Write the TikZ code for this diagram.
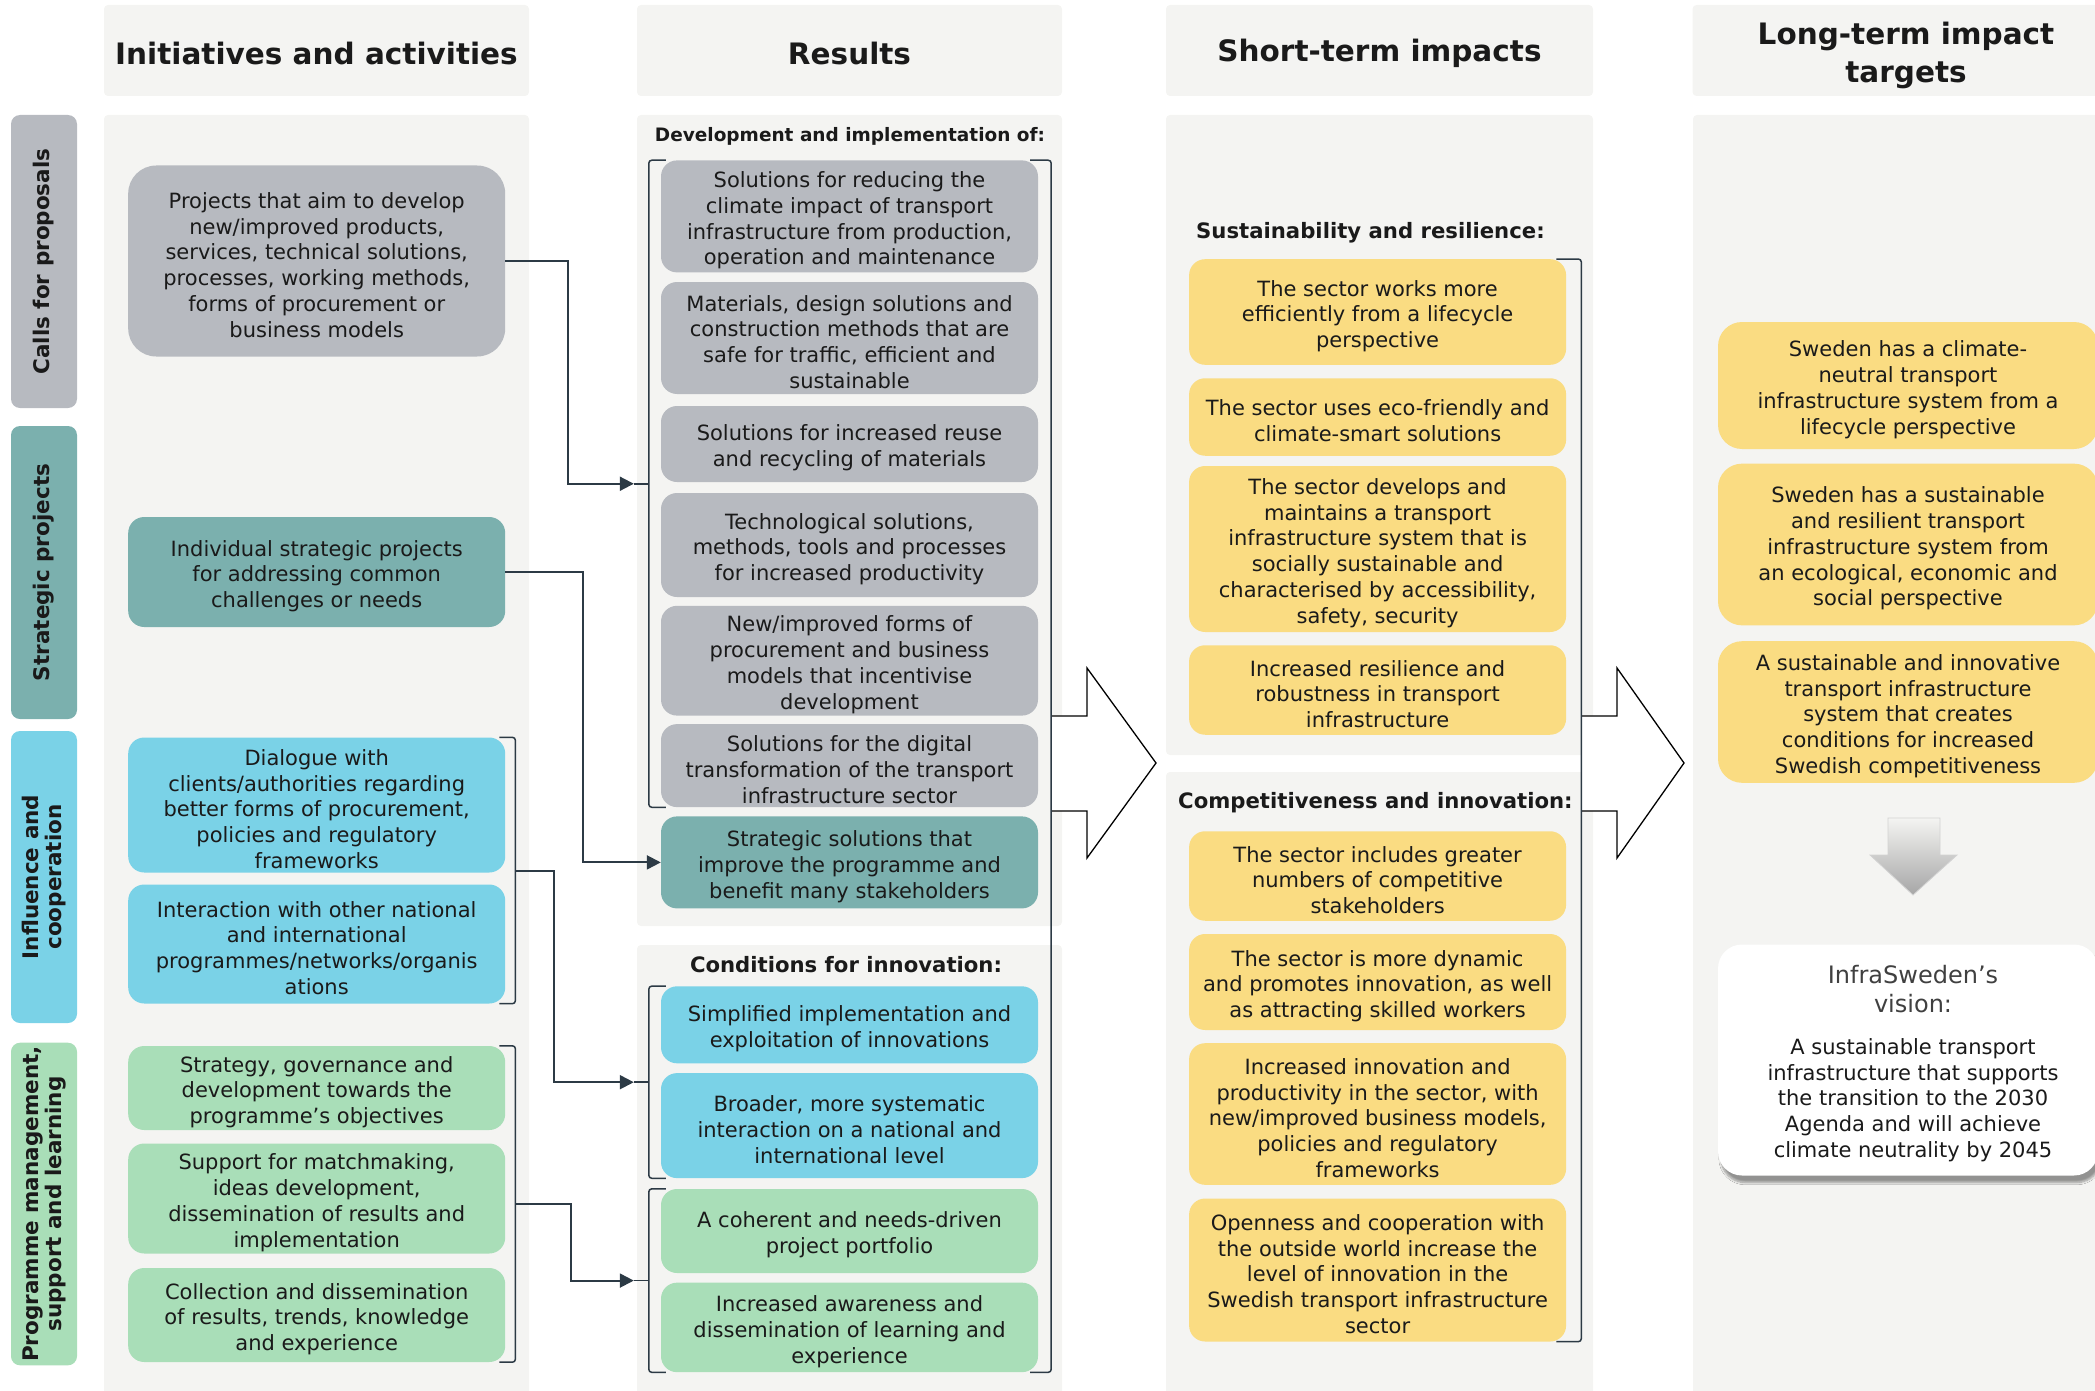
\documentclass[tikz,border=0pt]{standalone}
\usepackage{fontspec}
\setmainfont{DejaVu Sans}
\usetikzlibrary{arrows.meta,calc,shadows.blur}

\definecolor{panel}{HTML}{F4F4F2}
\definecolor{callgrey}{HTML}{B7BAC0}
\definecolor{stratteal}{HTML}{7BB0AE}
\definecolor{inflblue}{HTML}{7AD2E7}
\definecolor{progreen}{HTML}{A9DEB8}
\definecolor{impyellow}{HTML}{FADC82}
\definecolor{wire}{HTML}{2C3A45}
\definecolor{ink}{HTML}{1A1A1A}
\definecolor{visgrey}{HTML}{404040}

\newcommand\boxfont{\fontsize{21}{25.8}\selectfont}
\newcommand\headfont{\fontsize{29.5}{38}\selectfont\bfseries}
\newcommand\subfont{\fontsize{21.2}{25}\selectfont\bfseries}
\newcommand\sidefont{\fontsize{21.5}{23}\selectfont\bfseries}
\newcommand\visfont{\fontsize{24}{29}\selectfont}
\newcommand\boxlift{\rule{0pt}{24pt}}

\begin{document}
\begin{tikzpicture}[x = 1pt, y = -1pt,
    head/.style    = {fill          = panel,
                      rounded corners = 4pt,
                      minimum width = 425pt,
                      minimum height = 91pt,
                      align         = center,
                      font          = \headfont,
                      text          = ink,
                      execute at begin node = {\rule{0pt}{28pt}}},
    side/.style    = {rotate        = 90,
                      rounded corners = 9pt,
                      minimum height = 66pt,
                      align         = center,
                      font          = \sidefont,
                      text          = ink},
    box/.style     = {rounded corners = 16pt,
                      minimum width = 377pt,
                      inner sep     = 2pt,
                      align         = center,
                      font          = \boxfont,
                      text          = ink},
    sub/.style     = {font = \subfont, text = ink, inner sep = 0pt},
    bracket/.style = {draw = wire, line width = 1.5pt, rounded corners = 3pt},
    feed/.style    = {draw = wire, line width = 2pt,
                      -{Triangle[length=14pt,width=14pt]}},
    bigarrow/.style = {draw = black, line width = 1.3pt, fill = white}]

  \useasboundingbox (0,0) rectangle (2095,1391);

  % column panels
  \fill[panel, rounded corners=4pt] (104,115)  rectangle (529,1400);
  \fill[panel, rounded corners=4pt] (637,115)  rectangle (1062,926);
  \fill[panel, rounded corners=4pt] (637,945)  rectangle (1062,1400);
  \fill[panel, rounded corners=4pt] (1166,115) rectangle (1593,755);
  \fill[panel, rounded corners=4pt] (1166,772) rectangle (1593,1400);
  \fill[panel, rounded corners=4pt] (1693,115) rectangle (2120,1400);

  \node[head]                    (hInit)  at (316.5,50.5) {Initiatives and activities};
  \node[head]                    (hRes)   at (849.5,50.5) {Results};
  \node[head, minimum width=427pt] (hShort) at (1379.5,50.5) {Short-term impacts};
  \node[head, minimum width=427pt] (hLong)  at (1906,50.5) {\rule{0pt}{32pt}Long-term impact\\targets};

  % side bars
  \node[side, fill=callgrey,  minimum width=293pt] (sCalls) at (44,261.5) {Calls for proposals};
  \node[side, fill=stratteal, minimum width=293pt] (sStrat) at (44,572.5) {Strategic projects};
  \node[side, fill=inflblue,  minimum width=292pt] (sInfl)  at (44,877)   {Influence and\\cooperation};
  \node[side, fill=progreen,  minimum width=316pt] (sProg)  at (44,1204)  {Programme management,\\support and learning};

  % initiatives and activities
  \node[box, fill=callgrey, minimum height=191pt, rounded corners=28pt] (aCalls) at (316.7,261)
    {\boxlift Projects that aim to develop\\new/improved products,\\services, technical solutions,\\processes, working methods,\\forms of procurement or\\business models};
  \node[box, fill=stratteal, minimum height=110pt] (aStrat) at (316.7,572)
    {\boxlift Individual strategic projects\\for addressing common\\challenges or needs};
  \node[box, fill=inflblue, minimum height=135pt] (aDialog) at (316.7,805)
    {\boxlift Dialogue with\\clients/authorities regarding\\better forms of procurement,\\policies and regulatory\\frameworks};
  \node[box, fill=inflblue, minimum height=119pt] (aInter) at (316.7,944)
    {\boxlift Interaction with other national\\and international\\programmes/networks/organis\\ations};
  \node[box, fill=progreen, minimum height=84pt] (aGov) at (316.7,1088)
    {\boxlift Strategy, governance and\\development towards the\\programme’s objectives};
  \node[box, fill=progreen, minimum height=110pt] (aMatch) at (316.7,1198.5)
    {\boxlift Support for matchmaking,\\ideas development,\\dissemination of results and\\implementation};
  \node[box, fill=progreen, minimum height=94pt] (aCollect) at (316.7,1315)
    {\boxlift Collection and dissemination\\of results, trends, knowledge\\and experience};

  % results
  \node[sub, font=\fontsize{18.5}{22}\selectfont\bfseries] (tDev) at (850,136) {Development and implementation of:};
  \node[box, fill=callgrey, minimum height=112pt] (bClimate) at (849.5,216.4)
    {\boxlift Solutions for reducing the\\climate impact of transport\\infrastructure from production,\\operation and maintenance};
  \node[box, fill=callgrey, minimum height=112pt] (bMaterial) at (849.5,338)
    {\boxlift Materials, design solutions and\\construction methods that are\\safe for traffic, efficient and\\sustainable};
  \node[box, fill=callgrey, minimum height=76pt] (bReuse) at (849.5,444)
    {\boxlift Solutions for increased reuse\\and recycling of materials};
  \node[box, fill=callgrey, minimum height=104pt] (bTech) at (849.5,545)
    {\boxlift Technological solutions,\\methods, tools and processes\\for increased productivity};
  \node[box, fill=callgrey, minimum height=105pt] (bProcure) at (849.5,660.7)
    {\boxlift New/improved forms of\\procurement and business\\models that incentivise\\development};
  \node[box, fill=callgrey, minimum height=83pt] (bDigital) at (849.5,765.6)
    {\boxlift Solutions for the digital\\transformation of the transport\\infrastructure sector};
  \node[box, fill=stratteal, minimum height=92pt] (bStrat) at (849.5,862.4)
    {\boxlift Strategic solutions that\\improve the programme and\\benefit many stakeholders};
  \node[sub] (tCond) at (846,964.6) {Conditions for innovation:};
  \node[box, fill=inflblue, minimum height=77pt] (bSimple) at (849.5,1024.8)
    {\boxlift Simplified implementation and\\exploitation of innovations};
  \node[box, fill=inflblue, minimum height=105pt] (bBroad) at (849.5,1125.6)
    {\boxlift Broader, more systematic\\interaction on a national and\\international level};
  \node[box, fill=progreen, minimum height=84pt] (bPortfolio) at (849.5,1231)
    {\boxlift A coherent and needs-driven\\project portfolio};
  \node[box, fill=progreen, minimum height=89.5pt] (bAware) at (849.5,1327.4)
    {\boxlift Increased awareness and\\dissemination of learning and\\experience};

  % short-term impacts
  \node[sub, anchor=west] (tSust) at (1196,232.5) {Sustainability and resilience:};
  \node[box, fill=impyellow, minimum height=105.6pt] (cLife) at (1377.6,312)
    {\boxlift The sector works more\\efficiently from a lifecycle\\perspective};
  \node[box, fill=impyellow, minimum height=77.5pt] (cEco) at (1377.6,417)
    {\boxlift The sector uses eco-friendly and\\climate-smart solutions};
  \node[box, fill=impyellow, minimum height=166pt] (cSocial) at (1377.6,549)
    {\boxlift The sector develops and\\maintains a transport\\infrastructure system that is\\socially sustainable and\\characterised by accessibility,\\safety, security};
  \node[box, fill=impyellow, minimum height=89.5pt] (cRobust) at (1377.6,690)
    {\boxlift Increased resilience and\\robustness in transport\\infrastructure};
  \node[sub, anchor=west] (tComp) at (1178,803) {Competitiveness and innovation:};
  \node[box, fill=impyellow, minimum height=89.5pt] (cNumber) at (1377.6,876)
    {\boxlift The sector includes greater\\numbers of competitive\\stakeholders};
  \node[box, fill=impyellow, minimum height=96pt] (cDynamic) at (1377.6,982)
    {\boxlift The sector is more dynamic\\and promotes innovation, as well\\as attracting skilled workers};
  \node[box, fill=impyellow, minimum height=141.6pt] (cProduct) at (1377.6,1114)
    {\boxlift Increased innovation and\\productivity in the sector, with\\new/improved business models,\\policies and regulatory\\frameworks};
  \node[box, fill=impyellow, minimum height=143pt] (cOpen) at (1377.6,1270)
    {\boxlift Openness and cooperation with\\the outside world increase the\\level of innovation in the\\Swedish transport infrastructure\\sector};

  % long-term impact targets
  \node[box, fill=impyellow, minimum width=380pt, minimum height=127pt, rounded corners=24pt] (dNeutral) at (1908,385.5)
    {\boxlift Sweden has a climate-\\neutral transport\\infrastructure system from a\\lifecycle perspective};
  \node[box, fill=impyellow, minimum width=380pt, minimum height=161.7pt, rounded corners=24pt] (dResilient) at (1908,544.5)
    {\boxlift Sweden has a sustainable\\and resilient transport\\infrastructure system from\\an ecological, economic and\\social perspective};
  \node[box, fill=impyellow, minimum width=380pt, minimum height=141.6pt, rounded corners=24pt] (dCompete) at (1908,712)
    {\boxlift A sustainable and innovative\\transport infrastructure\\system that creates\\conditions for increased\\Swedish competitiveness};

  \shade[top color=panel, bottom color=gray!70, draw=gray!35, line width=0.8pt]
    (1888,818) -- (1940,818) -- (1940,855) -- (1957,855) -- (1913,895)
    -- (1870,855) -- (1888,855) -- cycle;

  \node[box, fill=white, minimum width=380pt, minimum height=231pt, rounded corners=24pt,
        blur shadow={shadow xshift=3pt, shadow yshift=-7pt, shadow blur steps=8, shadow opacity=40}]
    (vBox) at (1908,1060) {};
  \node[font=\visfont, text=visgrey, align=center, inner sep=0pt] (vHead) at (1913,989.5)
    {InfraSweden’s\\vision:};
  \node[font=\boxfont, text=ink, align=center, inner sep=0pt] (vText) at (1913,1100)
    {A sustainable transport\\infrastructure that supports\\the transition to the 2030\\Agenda and will achieve\\climate neutrality by 2045};

  % block arrows
  \draw[bigarrow] (1051,716) -- (1087,716) -- (1087,668) -- (1156,763)
                  -- (1087,858) -- (1087,811) -- (1051,811);
  \draw[bigarrow] (1581,716) -- (1617,716) -- (1617,668) -- (1684,763)
                  -- (1617,858) -- (1617,811) -- (1581,811);

  % brackets
  \draw[bracket] ([xshift=-6pt]aDialog.north east) -| ([xshift=10pt]aInter.south east)
                 -- ([xshift=-6pt]aInter.south east);
  \draw[bracket] ([xshift=-6pt]aGov.north east) -| ([xshift=10pt]aCollect.south east)
                 -- ([xshift=-6pt]aCollect.south east);
  \draw[bracket] ([xshift=5pt]bClimate.north west) -| ([xshift=-12pt]bDigital.south west)
                 -- ([xshift=5pt]bDigital.south west);
  \draw[bracket] ([xshift=5pt]bSimple.north west) -| ([xshift=-12pt]bBroad.south west)
                 -- ([xshift=5pt]bBroad.south west);
  \draw[bracket] ([xshift=5pt]bPortfolio.north west) -| ([xshift=-12pt]bAware.south west)
                 -- ([xshift=5pt]bAware.south west);
  \draw[bracket] ([xshift=-8pt]bClimate.north east) -| ([xshift=13pt]bAware.south east)
                 -- ([xshift=-8pt]bAware.south east);
  \draw[bracket] ([xshift=-10pt]cLife.north east) -| ([xshift=15pt]cOpen.south east)
                 -- ([xshift=-10pt]cOpen.south east);

  \coordinate (kInfl) at ($(aDialog.north east)!0.5!(aInter.south east)+(10pt,0)$);
  \coordinate (kProg) at ($(aGov.north east)!0.5!(aCollect.south east)+(10pt,0)$);
  \coordinate (kDev)  at ($(bClimate.north west)!0.5!(bDigital.south west)+(-27pt,0)$);
  \coordinate (kCond) at ($(bSimple.north west)!0.5!(bBroad.south west)+(-27pt,0)$);
  \coordinate (kPort) at ($(bPortfolio.north west)!0.5!(bAware.south west)+(-27pt,0)$);
  \draw[bracket] (kDev)  -- ++(15,0);
  \draw[bracket] (kCond) -- ++(15,0);
  \draw[bracket] (kPort) -- ++(15,0);

  % connectors
  \draw[feed] (aCalls.east) -- ++(63,0) |- (kDev);
  \draw[feed] (aStrat.east) -- ++(78,0) |- (bStrat.west);
  \draw[feed] (kInfl) -- ++(39,0) |- (kCond);
  \draw[feed] (kProg) -- ++(56,0) |- (kPort);
\end{tikzpicture}
\end{document}
